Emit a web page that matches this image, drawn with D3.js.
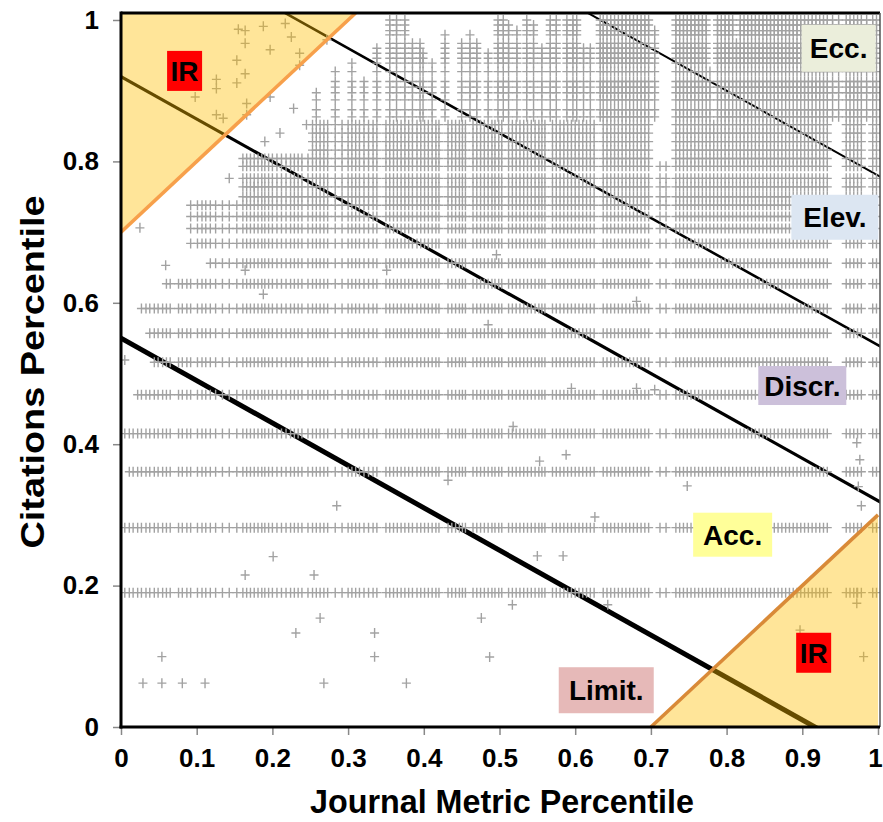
<!DOCTYPE html>
<html>
<head>
<meta charset="utf-8">
<script src="https://cdn.jsdelivr.net/npm/d3@7/dist/d3.min.js"></script>
<style>
  body { margin: 0; background: #fff; }
  .narrow { font-family: "Liberation Sans Narrow", "Arial Narrow", "Liberation Sans", Arial, sans-serif; font-weight: bold; }
  .zone { font-family: "Liberation Sans", Arial, sans-serif; font-weight: bold; }
</style>
</head>
<body>
<div id="chart"></div>
<script>
// citation percentile levels that nearly every journal reaches
const lowerRows = [0.19, 0.282, 0.361, 0.415, 0.47, 0.516, 0.557, 0.592, 0.627, 0.656];
const lowerRowStart = [0.005, 0.005, 0.011, 0.005, 0.022, 0.044, 0.038, 0.027, 0.06, 0.118];
// middle citation levels (horizontal lines across the upper half)
const midRows = [0.684, 0.705, 0.722, 0.738, 0.75, 0.764, 0.776, 0.793, 0.804, 0.816, 0.828, 0.84, 0.852];
// top citation levels, only reached by the stronger journals
const topRows = [0.863, 0.873, 0.887, 0.897, 0.905, 0.913, 0.927, 0.939, 0.946, 0.953, 0.96, 0.967,
    0.979, 0.985, 0.993, 1.0];

// journal metric percentiles (columns)
const journalPct = [
    0.005, 0.011, 0.016, 0.022, 0.027, 0.033, 0.038, 0.044, 0.049, 0.055, 0.06, 0.065,
    0.076, 0.081, 0.087, 0.092, 0.101, 0.107, 0.112, 0.118, 0.125, 0.134, 0.143, 0.153,
    0.161, 0.166, 0.171, 0.176, 0.181, 0.186, 0.19, 0.195, 0.2,
    0.206, 0.212, 0.218, 0.224, 0.229, 0.234, 0.239, 0.247, 0.253, 0.258, 0.263, 0.268, 0.273,
    0.283, 0.292, 0.3, 0.305, 0.31, 0.315, 0.321, 0.327, 0.333, 0.338,
    0.35, 0.355, 0.36, 0.365, 0.37, 0.375, 0.38, 0.385, 0.391, 0.396, 0.401, 0.406, 0.411, 0.416, 0.42,
    0.432, 0.437, 0.442, 0.447, 0.451, 0.455, 0.465, 0.47, 0.475, 0.48, 0.485, 0.49, 0.494, 0.499, 0.503,
    0.512, 0.517, 0.522, 0.527, 0.532, 0.537, 0.542, 0.547, 0.552, 0.556, 0.56,
    0.57, 0.575, 0.58, 0.585, 0.59, 0.595, 0.6, 0.605, 0.61, 0.615, 0.62, 0.625,
    0.637, 0.642, 0.647, 0.652, 0.657, 0.662, 0.667, 0.672, 0.677, 0.682, 0.687, 0.692, 0.697,
    0.712, 0.72, 0.733, 0.738, 0.743, 0.748, 0.753, 0.758, 0.763, 0.768, 0.773, 0.778, 0.783,
    0.788, 0.793, 0.798, 0.803, 0.808, 0.813, 0.818, 0.823, 0.828, 0.833, 0.838, 0.843, 0.848,
    0.853, 0.858, 0.863, 0.868, 0.873, 0.878, 0.883, 0.888, 0.893, 0.898, 0.903, 0.908, 0.913,
    0.918, 0.923, 0.928, 0.933, 0.958, 0.963, 0.968, 0.973, 0.978, 0.993, 0.998
];

// highest middle level reached, by journal percentile band
const reachFrom = [0, 0.09, 0.16, 0.25, 0.71, 0.73];
const reachTop  = [0.656, 0.738, 0.804, 0.852, 0.793, 0.852];

// columns that continue into the top levels, with their highest point
const upperCol = [0.258, 0.283, 0.305, 0.321, 0.338, 0.355, 0.364, 0.375, 0.385, 0.395, 0.399, 0.411,
    0.428, 0.45, 0.461, 0.47, 0.485, 0.498, 0.505, 0.512, 0.523, 0.536, 0.545, 0.556, 0.567, 0.575,
    0.589, 0.597, 0.602, 0.611, 0.62, 0.633, 0.637, 0.642, 0.647, 0.652, 0.657, 0.662, 0.667, 0.672,
    0.677, 0.682, 0.687, 0.692, 0.697, 0.705, 0.733, 0.738, 0.743, 0.748, 0.753, 0.758, 0.763, 0.768,
    0.773, 0.778, 0.788, 0.793, 0.798, 0.803, 0.808, 0.813, 0.818, 0.823, 0.828, 0.833, 0.838, 0.843,
    0.848, 0.853, 0.858, 0.863, 0.868, 0.873, 0.878, 0.883, 0.888, 0.893, 0.898, 0.903, 0.908, 0.913,
    0.918, 0.923, 0.928, 0.933, 0.94, 0.948, 0.958, 0.963, 0.968, 0.973, 0.978, 0.985, 0.993, 0.998];
const upperTop = [0.897, 0.927, 0.939, 0.913, 0.96, 1.0, 1.0, 1.0, 0.967, 0.967, 0.953, 0.939,
    0.979, 0.967, 0.979, 0.967, 0.953, 1.0, 1.0, 0.993, 0.985, 1.0, 0.993, 0.96, 1.0, 1.0,
    1.0, 1.0, 1.0, 0.96, 0.96, 1.0, 1.0, 1.0, 1.0, 1.0, 1.0, 1.0, 1.0, 1.0,
    1.0, 1.0, 1.0, 1.0, 1.0, 0.985, 1.0, 1.0, 1.0, 1.0, 1.0, 1.0, 1.0, 1.0,
    1.0, 0.927, 1.0, 1.0, 1.0, 1.0, 1.0, 0.967, 1.0, 1.0, 1.0, 1.0, 1.0, 1.0,
    1.0, 1.0, 1.0, 1.0, 1.0, 1.0, 1.0, 1.0, 1.0, 1.0, 1.0, 1.0, 1.0, 1.0,
    1.0, 1.0, 1.0, 1.0, 1.0, 1.0, 1.0, 1.0, 1.0, 1.0, 1.0, 1.0, 1.0, 1.0];

// isolated papers
const outlierX = [0.029, 0.054, 0.081, 0.111, 0.268, 0.377, 0.054, 0.335, 0.487, 0.231, 0.335, 0.263, 0.476,
    0.517, 0.643, 0.164, 0.255, 0.201, 0.55, 0.584, 0.285, 0.626, 0.748, 0.553, 0.588, 0.432, 0.518,
    0.595, 0.681, 0.705, 0.681, 0.485, 0.351, 0.164, 0.188, 0.496, 0.005, 0.897, 0.981, 0.972, 0.972,
    0.978, 0.974, 0.976, 0.972, 0.025, 0.059,
    0.155, 0.164, 0.188, 0.217, 0.225, 0.164, 0.197, 0.236, 0.153, 0.164, 0.126, 0.126, 0.153, 0.098,
    0.135, 0.197, 0.236, 0.272, 0.166, 0.166, 0.126, 0.21, 0.245, 0.228, 0.19, 0.143, 0.176];
const outlierY = [0.062, 0.062, 0.062, 0.062, 0.062, 0.062, 0.0995, 0.0995, 0.099, 0.133, 0.133, 0.154, 0.154,
    0.173, 0.173, 0.215, 0.215, 0.241, 0.242, 0.242, 0.313, 0.297, 0.341, 0.376, 0.385, 0.349, 0.425,
    0.479, 0.479, 0.477, 0.602, 0.569, 0.646, 0.646, 0.612, 0.668, 0.519, 0.137, 0.0995, 0.19, 0.175,
    0.313, 0.34, 0.378, 0.402, 0.706, 0.653,
    0.987, 0.985, 0.991, 0.995, 0.976, 0.967, 0.958, 0.953, 0.943, 0.924, 0.916, 0.903, 0.911, 0.891,
    0.861, 0.891, 0.936, 0.972, 0.882, 0.866, 0.866, 0.84, 0.852, 0.875, 0.828, 0.776, 0.764];

// diagonal zone boundaries: citation = intercept + slope * journal
const boundaryIntercept = [0.55, 0.92, 1.14, 1.38];
const boundarySlope = -0.6;
const boundaryWidth = [5, 3.2, 2.6, 2];

// inconsistent-ranking corners
const irCorners = [[[0, 0.7], [0, 1.01], [0.31, 1.01]], [[0.7, 0], [1, 0], [1, 0.3]]];

const zoneNames = ["Ecc.", "Elev.", "Discr.", "Acc.", "Limit.", "IR", "IR"];
const zoneFill = ["#ebeedb", "#dce6f2", "#ccc0da", "#ffff99", "#e6b9b8", "#ff0000", "#ff0000"];
// label anchor (data units) and box size
const zoneBox = [
    { cx: 0.948, cy: 0.960, w: 74, h: 47 },
    { cx: 0.943, cy: 0.721, w: 87, h: 45 },
    { cx: 0.900, cy: 0.483, w: 88, h: 39 },
    { cx: 0.808, cy: 0.272, w: 79, h: 44 },
    { cx: 0.641, cy: 0.052, w: 95, h: 46 },
    { cx: 0.084, cy: 0.928, w: 35, h: 40 },
    { cx: 0.915, cy: 0.105, w: 35, h: 40 }
];

const width = 883, height = 822;
const x = d3.scaleLinear().domain([0, 1]).range([121, 878]);
const y = d3.scaleLinear().domain([0, 1]).range([727, 20]);
const frameTop = 13, frameRight = 880;

const svg = d3.select("#chart").append("svg")
    .attr("width", width)
    .attr("height", height);

svg.append("clipPath").attr("id", "plot")
    .append("rect")
    .attr("x", x(0)).attr("y", frameTop)
    .attr("width", frameRight - x(0)).attr("height", y(0) - frameTop);

const plot = svg.append("g").attr("clip-path", "url(#plot)");

// boundary lines
boundaryIntercept.forEach((b, i) => {
    plot.append("line")
        .attr("x1", x(0)).attr("y1", y(b))
        .attr("x2", x(1.2)).attr("y2", y(b + boundarySlope * 1.2))
        .attr("stroke", "#000")
        .attr("stroke-width", boundaryWidth[i]);
});

// build the point list
function reach(j) {
    let top = reachTop[0];
    reachFrom.forEach((f, i) => { if (j >= f) top = reachTop[i]; });
    return top;
}
let points = [];
lowerRows.forEach((r, i) => {
    journalPct.forEach(j => { if (j >= lowerRowStart[i]) points.push([j, r]); });
});
journalPct.forEach(j => {
    let top = reach(j);
    midRows.forEach(r => { if (r <= top + 1e-9) points.push([j, r]); });
});
upperCol.forEach((j, i) => {
    topRows.forEach(r => { if (r <= upperTop[i] + 1e-9) points.push([j, r]); });
});
outlierX.forEach((ox, i) => points.push([ox, outlierY[i]]));

plot.append("g").selectAll("path")
    .data(points)
    .enter()
    .append("path")
    .attr("transform", d => `translate(${x(d[0])},${y(d[1])})`)
    .attr("d", "M-4.5,0H4.5M0,-5V5")
    .attr("stroke", "#a2a2a2")
    .attr("stroke-width", 1.4)
    .attr("fill", "none");

// IR corners, translucent overlay
const line = d3.line().x(d => x(d[0])).y(d => y(d[1]));
irCorners.forEach((c, i) => {
    plot.append("path")
        .attr("d", line(c) + "Z")
        .attr("fill", "rgba(255,190,0,0.4)");
    plot.append("path")
        .attr("d", line([c[0], c[2]]))
        .attr("stroke", i === 0 ? "#f7a04b" : "#d98a38")
        .attr("stroke-width", 3.5)
        .attr("fill", "none");
});

// zone labels
zoneNames.forEach((name, i) => {
    let b = zoneBox[i];
    let g = svg.append("g").attr("transform", `translate(${x(b.cx)},${y(b.cy)})`);
    g.append("rect")
        .attr("x", -b.w / 2).attr("y", -b.h / 2)
        .attr("width", b.w).attr("height", b.h)
        .attr("fill", zoneFill[i]);
    g.append("text")
        .attr("class", "zone")
        .attr("text-anchor", "middle")
        .attr("y", 10)
        .style("font-size", "28px")
        .attr("fill", "#000")
        .text(name);
});

// axes
const ticks = [0, 0.1, 0.2, 0.3, 0.4, 0.5, 0.6, 0.7, 0.8, 0.9, 1];
const yTicks = [0, 0.2, 0.4, 0.6, 0.8, 1];

let xAxis = svg.append("g")
    .attr("transform", `translate(0,${y(0)})`)
    .call(d3.axisBottom(x).tickValues(ticks).tickFormat(d3.format("~g")).tickSize(8).tickPadding(14));
xAxis.select(".domain").remove();
xAxis.selectAll("line").attr("stroke", "#888").attr("stroke-width", 1.5);
xAxis.selectAll("text").attr("class", "narrow").attr("fill", "#000").style("font-size", "26px");
xAxis.selectAll("text").filter(d => d === 1).attr("dx", -3);

let yAxis = svg.append("g")
    .attr("transform", `translate(${x(0)},0)`)
    .call(d3.axisLeft(y).tickValues(yTicks).tickFormat(d3.format("~g")).tickSize(8).tickPadding(14));
yAxis.select(".domain").remove();
yAxis.selectAll("line").attr("stroke", "#888").attr("stroke-width", 1.5);
yAxis.selectAll("text").attr("class", "narrow").attr("fill", "#000").style("font-size", "26px");

// frame
svg.append("line").attr("x1", x(0)).attr("x2", frameRight).attr("y1", frameTop).attr("y2", frameTop)
    .attr("stroke", "#000").attr("stroke-width", 3);
svg.append("line").attr("x1", frameRight).attr("x2", frameRight).attr("y1", frameTop).attr("y2", y(0))
    .attr("stroke", "#555").attr("stroke-width", 1.5);
svg.append("line").attr("x1", x(0)).attr("x2", x(0)).attr("y1", frameTop - 1.5).attr("y2", y(0) + 1.5)
    .attr("stroke", "#000").attr("stroke-width", 3);
svg.append("line").attr("x1", x(0) - 1.5).attr("x2", frameRight).attr("y1", y(0)).attr("y2", y(0))
    .attr("stroke", "#000").attr("stroke-width", 3);

// axis titles
svg.append("text")
    .attr("class", "narrow")
    .attr("x", 502).attr("y", 813)
    .attr("text-anchor", "middle")
    .attr("textLength", 384).attr("lengthAdjust", "spacingAndGlyphs")
    .style("font-size", "33px")
    .text("Journal Metric Percentile");

svg.append("text")
    .attr("class", "narrow")
    .attr("transform", "rotate(-90)")
    .attr("x", -372).attr("y", 44)
    .attr("text-anchor", "middle")
    .attr("textLength", 353).attr("lengthAdjust", "spacingAndGlyphs")
    .style("font-size", "34px")
    .text("Citations Percentile");
</script>
</body>
</html>
